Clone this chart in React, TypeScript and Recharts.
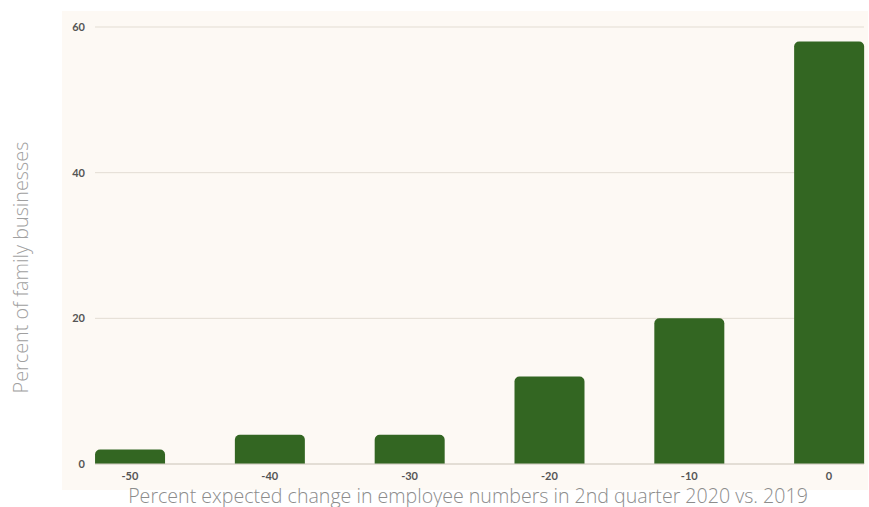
import { BarChart, Bar, XAxis, YAxis, CartesianGrid } from 'recharts';

const changeLevels = [-50, -40, -30, -20, -10, 0];
const sharePercent = [2, 4, 4, 12, 20, 58];
const yTicks = [0, 20, 40, 60];

const data = changeLevels.map((x, i) => ({ x, share: sharePercent[i] }));

const labelFont = "'Open Sans', sans-serif";

const YLabel = ({ viewBox }: any) => {
  const cx = 20;
  const cy = viewBox.y + viewBox.height / 2 + 22;
  return (
    <text
      x={cx}
      y={cy}
      transform={`rotate(-90, ${cx}, ${cy})`}
      textAnchor="middle"
      dominantBaseline="central"
      fill="#a0a0a0"
      fontSize={19.8}
      fontWeight={300}
      fontFamily={labelFont}
    >
      Percent of family businesses
    </text>
  );
};

const XLabel = ({ viewBox }: any) => (
  <text
    x={468}
    y={viewBox.y + 39}
    textAnchor="middle"
    fill="#8c8c8c"
    fontSize={19.6}
    fontWeight={300}
    fontFamily={labelFont}
  >
    Percent expected change in employee numbers in 2nd quarter 2020 vs. 2019
  </text>
);

const tickStyle = { fontSize: 11, fontWeight: 700, fill: '#555', fontFamily: 'Lato, sans-serif' };

export default function App() {
  return (
    <div style={{ position: 'absolute', left: 0, top: 0, width: 869, height: 507 }}>
      <div
        style={{
          position: 'absolute',
          left: 62,
          top: 11,
          width: 806,
          height: 479,
          background: '#fdf9f4',
        }}
      />
      <div style={{ position: 'absolute', left: 0, top: 0 }}>
        <BarChart
          width={869}
          height={507}
          data={data}
          margin={{ top: 27, right: 5, left: 0, bottom: 0 }}
        >
          <CartesianGrid vertical={false} stroke="#e3ddd3" />
          <XAxis
            dataKey="x"
            type="number"
            domain={[-52.5, 2.5]}
            ticks={changeLevels}
            height={43}
            tickLine={false}
            axisLine={{ stroke: '#d6d0c6' }}
            tick={tickStyle}
            tickMargin={2}
            label={<XLabel />}
          />
          <YAxis
            domain={[0, 60]}
            ticks={yTicks}
            width={95}
            tickLine={false}
            axisLine={false}
            tick={tickStyle}
            tickMargin={4}
            label={<YLabel />}
          />
          <Bar
            dataKey="share"
            fill="#336622"
            barSize={70}
            radius={[5, 5, 0, 0]}
            isAnimationActive={false}
          />
        </BarChart>
      </div>
    </div>
  );
}
